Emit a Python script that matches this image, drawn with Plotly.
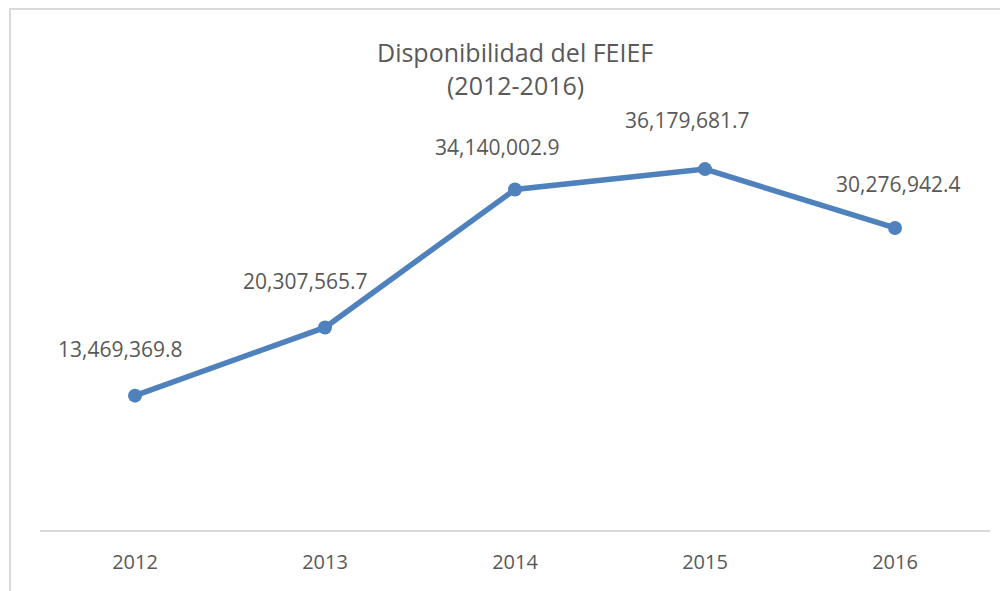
import plotly.graph_objects as go

years = ["2012", "2013", "2014", "2015", "2016"]
values = [13469369.8, 20307565.7, 34140002.9, 36179681.7, 30276942.4]
labels = ["13,469,369.8", "20,307,565.7", "34,140,002.9", "36,179,681.7", "30,276,942.4"]
title_lines = ["Disponibilidad del FEIEF", "(2012-2016)"]

# label offsets in pixels (layout only)
label_dx = [-15, -20, -18, -18, 3]
label_dy = [47, 46.5, 42, 49.5, 43.5]

FONT = "Open Sans"
TXT = "#595959"
BLUE = "#4f81bd"

fig = go.Figure()
fig.add_trace(go.Scatter(
    x=years, y=values, mode="lines+markers",
    line=dict(color=BLUE, width=5.5),
    marker=dict(color=BLUE, size=14),
    hoverinfo="skip", showlegend=False,
))

annotations = []
for i, (v, t) in enumerate(zip(values, labels)):
    annotations.append(dict(
        x=i, y=v, xref="x", yref="y", text=t, showarrow=False,
        xanchor="center", yanchor="middle",
        xshift=label_dx[i], yshift=label_dy[i],
        font=dict(family=FONT, size=21, color=TXT),
    ))

# title lines
annotations.append(dict(x=0.5, y=(530 - 52) / 399, xref="paper", yref="paper",
                        text=title_lines[0], showarrow=False, xanchor="center", yanchor="middle",
                        font=dict(family=FONT, size=25, color=TXT)))
annotations.append(dict(x=0.5, y=(530 - 85) / 399, xref="paper", yref="paper",
                        text=title_lines[1], showarrow=False, xanchor="center", yanchor="middle",
                        font=dict(family=FONT, size=25, color=TXT)))

fig.update_layout(
    width=1008, height=591,
    margin=dict(l=32, r=26, t=123, b=69),
    paper_bgcolor="white", plot_bgcolor="white",
    annotations=annotations,
    shapes=[dict(type="rect", xref="paper", yref="paper",
                 x0=(10 - 40) / 950, x1=1.2, y0=-0.3, y1=(530 - 9) / 399,
                 line=dict(color="#d9d9d9", width=2), layer="below")],
    xaxis=dict(type="category", range=[-0.5, 4.5], showgrid=False, zeroline=False,
               showline=True, linecolor="#d9d9d9", linewidth=1.5,
               ticks="outside", ticklen=13, tickcolor="rgba(0,0,0,0)",
               tickfont=dict(family=FONT, size=20, color=TXT)),
    yaxis=dict(range=[0, 40e6], visible=False, showgrid=False, zeroline=False),
)

fig.write_html("out.html", config={"displayModeBar": False})
